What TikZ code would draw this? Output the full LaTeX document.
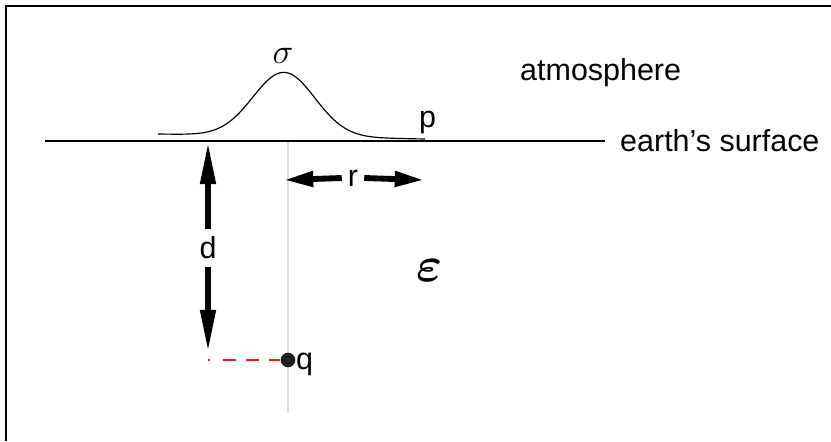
\RequirePackage{fix-cm}
\documentclass[tikz,border=0pt]{standalone}
\usepackage{fontspec}
\setmainfont{Liberation Sans}
\usepackage{amsmath}
\usetikzlibrary{arrows.meta}
\definecolor{dashred}{RGB}{230,30,40}
\tikzstyle{tag}=[inner sep=0pt,font=\fontsize{26}{26}\selectfont]
\tikzstyle{greek}=[inner sep=0pt,font=\fontsize{30}{30}\selectfont]
\tikzstyle{ground}=[draw,line width=2.5pt]
\tikzstyle{axis line}=[draw,gray!28,line width=1.5pt]
\tikzstyle{long arrow}=[draw,line width=5pt,-{Triangle[length=36pt,width=12.5pt]}]
\tikzstyle{short arrow}=[draw,line width=5pt,-{Triangle[length=25pt,width=12.5pt]}]
\tikzstyle{image line}=[draw,dashred,line width=2.5pt,dash pattern=on 1.7pt off 11pt on 11pt off 8.5pt on 11pt off 8.5pt on 25pt]
\tikzstyle{charge}=[circle,fill=black!88,minimum size=12.5pt,inner sep=0pt]

\begin{document}
\begin{tikzpicture}[x=0.03cm,y=-0.03cm]
    \useasboundingbox (0,0) rectangle (831,441);
    \draw[line width=1.2pt] (6,441) -- (6,6) -- (831,6);

    % First the fixed points
    \foreach \x/\y/\name in {45/141/west, 605/141/east, 288/141/top, 288/413/bottom,
        208/142/dtop, 208/352/dfoot, 208/360/corner, 284/180/rleft, 424/180/rright}
        \coordinate (\name) at (\x,\y);

    % earth's surface and the line through the charge
    \path[axis line] (top) -- (bottom);
    \path[ground] (west) -- (east);

    % the charge density above the ground
    \draw[line width=1pt] plot[domain=158:425,samples=120,smooth]
        (\x,{134+5*(\x-158)/267-64*exp(-0.5*((\x-284)/31)^2)});

    % labels
    \node[tag,anchor=west] (air) at (520,73) {atmosphere};
    \node[tag,anchor=west] (surface) at (620,141) {earth’s surface};
    \node[greek] (sigma) at (283,56) {$\sigma$};
    \node[tag,anchor=base west] (p) at (419,127) {p};
    \node[tag,minimum height=1.11cm] (d) at (208,248) {d};
    \node[tag,minimum width=0.66cm] (r) at (353,178) {r};
    \node[inner sep=0pt,font=\fontsize{42}{42}\selectfont] (eps) at (430,271) {$\boldsymbol{\varepsilon}$};
    \node[charge] (q) at (288,360) {};
    \node[tag,anchor=west] (qname) at (296,364) {q};

    % the arrows
    \foreach \source/\dest in {d.north/dtop, d.south/dfoot}
        \path[long arrow] (\source) -- (\dest);
    \foreach \source/\dest in {r.west/rleft, r.east/rright}
        \path[short arrow] (\source) -- (\dest);
    \path[image line] (corner) -- (q.west);
\end{tikzpicture}
\end{document}
